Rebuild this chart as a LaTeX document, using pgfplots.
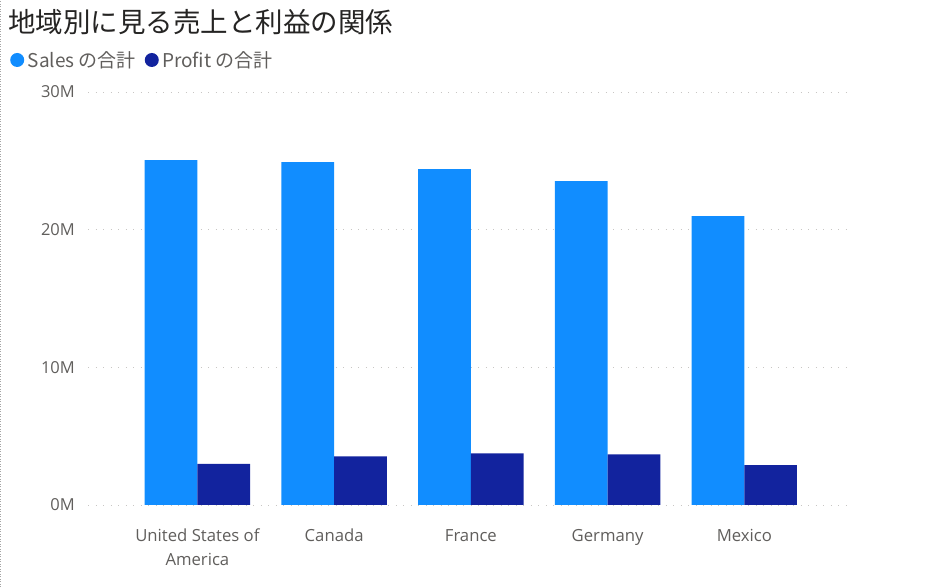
\documentclass[border=0pt]{standalone}
\usepackage{fontspec}
\setmainfont{Open Sans}
\newfontfamily\cjk{Noto Sans CJK JP}
\usepackage{pgfplots}
\usepackage{pgfplotstable}
\pgfplotsset{compat=1.18}

\definecolor{salesblue}{HTML}{118DFF}
\definecolor{profitblue}{HTML}{12239E}
\definecolor{labelgray}{HTML}{605E5C}
\definecolor{titlegray}{HTML}{252423}
\definecolor{gridgray}{HTML}{C8C6C4}

% values in millions
\pgfplotstableread{
idx sales profit
0 25.06 2.98
1 24.91 3.54
2 24.40 3.75
3 23.53 3.68
4 20.99 2.90
}\regiondata

\begin{document}
\begin{tikzpicture}
    \useasboundingbox (0,0) rectangle (941bp,587bp);
    \draw[gray!70, line width=0.8bp, dash pattern=on 1bp off 1.5bp] (0.5bp,0) -- (0.5bp,587bp);

    \node[anchor=west, inner sep=0pt, text=titlegray,
          font=\cjk\fontsize{27.5bp}{30bp}\selectfont] at (8bp,565bp) {地域別に見る売上と利益の関係};

    \begin{axis}[
        at={(88bp,82bp)}, anchor=south west,
        scale only axis,
        width=763bp, height=413bp,
        ybar=0pt, bar width=0.385,
        xmin=-0.8, xmax=4.78,
        ymin=0, ymax=30,
        xtick={0,1,2,3,4},
        xticklabels={United States of\\America, Canada, France, Germany, Mexico},
        ytick={0,10,20,30},
        yticklabels={0M,10M,20M,30M},
        axis line style={draw=none},
        tick style={draw=none},
        major tick length=0pt,
        ymajorgrids,
        grid style={gridgray, line width=0.9bp, dash pattern=on 1.2bp off 6.3bp},
        xticklabel style={font=\fontsize{16.7bp}{24bp}\selectfont, align=center,
                          text=labelgray, inner sep=0pt, anchor=north, yshift=-24bp},
        yticklabel style={font=\fontsize{16.5bp}{20bp}\selectfont,
                          text=labelgray, inner sep=0pt, anchor=east, xshift=-13bp},
        legend columns=2,
        legend cell align=left,
        legend style={at={(-0.1022,1.0775)}, anchor=west, draw=none, fill=none,
                      inner sep=0pt, text=labelgray,
                      font=\cjk\fontsize{19bp}{22bp}\selectfont,
                      /tikz/every odd column/.append style={column sep=1.5bp},
                      /tikz/every even column/.append style={column sep=7bp}},
    ]
    \addplot[fill=salesblue, draw=none,
        legend image code/.code={\fill[salesblue] (0bp,0bp) circle (7bp);}]
        table[x=idx, y=sales] {\regiondata};
    \addplot[fill=profitblue, draw=none,
        legend image code/.code={\fill[profitblue] (0bp,0bp) circle (7bp);}]
        table[x=idx, y=profit] {\regiondata};
    \legend{Sales の合計, Profit の合計}
    \end{axis}
\end{tikzpicture}
\end{document}
